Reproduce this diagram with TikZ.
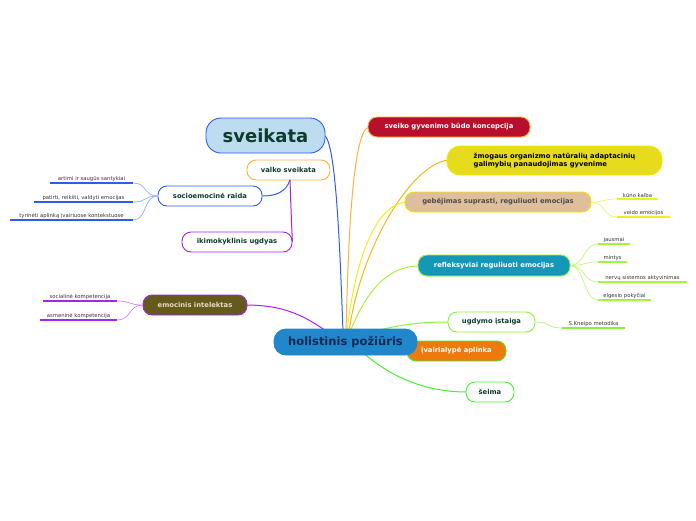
\documentclass[tikz,border=0pt]{standalone}
\usepackage{fontspec}
\setmainfont{DejaVu Sans}
\begin{document}
\begin{tikzpicture}[x=1pt,y=-1pt,
  box/.style={rounded corners=9pt,line width=0.9pt,font=\bfseries\fontsize{6.8}{8}\selectfont,inner sep=0pt,minimum height=20pt,align=center},
  leaf/.style={font=\fontsize{5.3}{6}\selectfont,text=black!80,inner sep=1.5pt,anchor=south},
  link/.style={line width=1pt},
  thin/.style={line width=0.7pt}]
\definecolor{cblue}{HTML}{2A5DF0}
\definecolor{clblue}{HTML}{BEDCF0}
\definecolor{corange}{HTML}{FFB13B}
\definecolor{cpurple}{HTML}{A424F0}
\definecolor{colive}{HTML}{655A1C}
\definecolor{ccrimson}{HTML}{B80F2E}
\definecolor{cyellow}{HTML}{E6DC1C}
\definecolor{cyelb}{HTML}{F2E400}
\definecolor{ctan}{HTML}{DFBE9C}
\definecolor{cteal}{HTML}{1597B8}
\definecolor{cgy}{HTML}{A4F43A}
\definecolor{cgreen}{HTML}{88F23A}
\definecolor{cvorange}{HTML}{EE7A0E}
\definecolor{cseima}{HTML}{44EE33}
\definecolor{ccenter}{HTML}{2087CA}
\definecolor{cdgreen}{HTML}{0D3B2E}
\definecolor{cnavy}{HTML}{0C2A57}
\definecolor{cgold}{HTML}{F5B81A}
\definecolor{cyl}{HTML}{EEEE22}
\useasboundingbox (0,0) rectangle (696,520);

% hub
\coordinate (hub) at (345,332);

% connectors from the centre (drawn first, nodes on top)
\coordinate (sv) at (324,135);
\coordinate (sg) at (369,127);
\coordinate (zm) at (448,160);
\coordinate (gb) at (406,202);
\coordinate (rf) at (419,266);
\coordinate (ug) at (449,322);
\coordinate (se) at (467,392);
\coordinate (em) at (246,305);

\draw[link,cblue] (sv) .. controls (336,140) and (340,250) .. (343,332);
\draw[link,corange] (sg) .. controls (352,130) and (348,250) .. (346,332);
\draw[link,cgold] (zm) .. controls (410,165) and (360,250) .. (349,332);
\draw[link,cyl] (gb) .. controls (375,205) and (355,260) .. (347,332);
\draw[link,cgy] (rf) .. controls (385,266) and (365,295) .. (350,332);
\draw[link,cgreen] (ug) .. controls (420,322) and (400,324) .. (360,335);
\draw[link,cseima] (se) .. controls (430,392) and (390,380) .. (355,345);
\draw[link,cpurple] (em) .. controls (290,305) and (310,320) .. (332,335);

% main nodes
\node[box,draw=cblue,fill=clblue,text=cdgreen,minimum width=119pt,minimum height=35pt,rounded corners=15pt,font=\bfseries\fontsize{18}{20}\selectfont] (sveikata) at (265.5,135.5) {sveikata};
\node[box,draw=corange,fill=white,text=cdgreen,minimum width=83pt] (valko) at (288.5,170) {valko sveikata};
\node[box,draw=cblue,fill=white,text=cdgreen,minimum width=104pt] (socio) at (210,196) {socioemocinė raida};
\node[box,draw=cpurple,fill=white,text=cdgreen,minimum width=110pt] (ikim) at (237,242) {ikimokyklinis ugdyas};
\node[box,draw=cpurple,fill=colive,text=ctan!60!white,minimum width=104pt] (emoc) at (195,305) {emocinis intelektas};
\node[box,draw=corange,fill=ccrimson,text=white,minimum width=162pt] (sveiko) at (449,127) {sveiko gyvenimo būdo koncepcija};
\node[box,draw=cyelb,fill=cyellow,text=black,minimum width=215pt,minimum height=29pt,rounded corners=13pt,align=left] (zmog) at (554.5,160.5) {žmogaus organizmo natūralių adaptacinių\\galimybių panaudojimas gyvenime};
\node[box,draw=cyelb,fill=ctan,text=black!70,minimum width=186pt] (gebej) at (498,202) {gebėjimas suprasti, reguliuoti emocijas};
\node[box,draw=cgy,fill=cteal,text=white,minimum width=152pt,minimum height=21pt] (refl) at (494,265.5) {refleksyviai reguliuoti emocijas};
\node[box,draw=cgreen,fill=white,text=cdgreen,minimum width=87pt] (ugdy) at (491.5,322) {ugdymo įstaiga};
\node[box,draw=cseima,fill=cvorange,text=white,minimum width=99pt] (ivai) at (456.5,351) {įvairialypė aplinka};
\node[box,draw=cseima,fill=white,text=cdgreen,minimum width=48pt] (seima) at (490,392) {šeima};
\node[box,draw=ccenter,fill=ccenter,text=cnavy,minimum width=143pt,minimum height=26pt,rounded corners=12pt,font=\bfseries\fontsize{11.5}{13}\selectfont] (holis) at (345.5,342) {holistinis požiūris};

% sub connectors of valko sveikata
\draw[link,cblue] (290,180) .. controls (286,192) and (276,196) .. (socio.east);
\draw[link,cpurple] (290,180) .. controls (291,210) and (292,235) .. (ikim.east);

% leaves
\node[leaf,minimum width=83pt] (l1) at (91.5,183) {artimi ir saugūs santykiai};
\node[leaf,minimum width=99pt] (l2) at (83.5,202) {patirti, reikšti, valdyti emocijas};
\node[leaf,minimum width=123pt] (l3) at (71.5,220) {tyrinėti aplinką įvairiuose kontekstuose};
\node[leaf,minimum width=74pt] (e1) at (80,301) {socialinė kompetencija};
\node[leaf,minimum width=77pt] (e2) at (78.5,320) {asmeninė kompetencija};
\node[leaf,minimum width=41pt] (g1) at (637.5,199) {kūno kalba};
\node[leaf,minimum width=53pt] (g2) at (643.5,217) {veido emocijos};
\node[leaf,minimum width=32pt] (r1) at (614,244) {jausmai};
\node[leaf,minimum width=29pt] (r2) at (612.5,262) {mintys};
\node[leaf,minimum width=89pt] (r3) at (642.5,282) {nervų sistemos aktyvinimas};
\node[leaf,minimum width=53pt] (r4) at (624.5,300) {elgesio pokyčiai};
\node[leaf,minimum width=63pt] (u1) at (593.5,328) {S.Kneipo metodika};

% underlines
\foreach \n in {l1,l2,l3} \draw[line width=1.3pt,cblue] (\n.south west) -- (\n.south east);
\foreach \n in {e1,e2} \draw[line width=1.3pt,cpurple] (\n.south west) -- (\n.south east);
\foreach \n in {g1,g2} \draw[line width=1.3pt,cyl] (\n.south west) -- (\n.south east);
\foreach \n in {r1,r2,r3,r4} \draw[line width=1.3pt,cgy] (\n.south west) -- (\n.south east);
\draw[line width=1.3pt,cgreen] (u1.south west) -- (u1.south east);

% leaf connectors
\foreach \n in {l1,l2,l3} \draw[thin,cblue!50] (socio.west) .. controls +(-14,0) and +(14,0) .. (\n.south east);
\foreach \n in {e1,e2} \draw[thin,cpurple!55] (emoc.west) .. controls +(-14,0) and +(14,0) .. (\n.south east);
\foreach \n in {g1,g2} \draw[thin,cyl!70] (gebej.east) .. controls +(14,0) and +(-14,0) .. (\n.south west);
\foreach \n in {r1,r2,r3,r4} \draw[thin,cgy!70] (refl.east) .. controls +(14,0) and +(-14,0) .. (\n.south west);
\draw[thin,cgreen!70] (ugdy.east) .. controls +(14,0) and +(-14,0) .. (u1.south west);
\end{tikzpicture}
\end{document}
